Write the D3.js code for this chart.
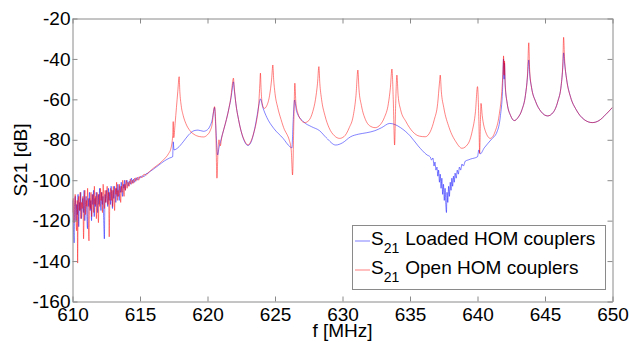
<!DOCTYPE html>
<html>
<head>
<meta charset="utf-8">
<script src="https://cdn.jsdelivr.net/npm/d3@7"></script>
<style>
  body { margin: 0; background: #fff; }
  text { font-family: "Liberation Sans", Arial, sans-serif; fill: #000; }
</style>
</head>
<body>
<div id="chart"></div>
<script>
// tick values
const xTicks = [610, 615, 620, 625, 630, 635, 640, 645, 650];
const yTicks = [-160, -140, -120, -100, -80, -60, -40, -20];

const seriesNames = ['Loaded HOM couplers', 'Open HOM couplers'];

// S21 with loaded HOM couplers [f MHz, dB]
const loadedHom = [
  [610.00,-110],[610.04,-118],[610.08,-126],[610.12,-131],[610.16,-113],[610.21,-108],[610.26,-120],
  [610.31,-112],[610.36,-117],[610.41,-107],[610.46,-123],[610.51,-111],[610.56,-115],[610.61,-106],
  [610.66,-119],[610.71,-113],[610.76,-109],[610.81,-116],[610.86,-105],[610.91,-120],[610.96,-112],
  [611.01,-108],[611.06,-117],[611.11,-124],[611.16,-109],[611.21,-113],[611.26,-106],[611.31,-115],
  [611.36,-110],[611.41,-120],[611.46,-107],[611.51,-112],[611.56,-105],[611.61,-118],[611.66,-109],
  [611.71,-113],[611.76,-106],[611.81,-111],[611.86,-116],[611.91,-107],[611.96,-112],[612.01,-104],
  [612.06,-110],[612.11,-115],[612.16,-106],[612.21,-112],[612.26,-108],[612.31,-120],[612.36,-129],
  [612.41,-107],[612.46,-111],[612.51,-105],[612.56,-109],[612.61,-113],[612.66,-104],[612.71,-110],
  [612.76,-106],[612.81,-112],[612.86,-103],[612.91,-108],[612.96,-114],[613.01,-105],[613.06,-109],
  [613.11,-103],[613.16,-107],[613.21,-111],[613.26,-104],[613.31,-108],[613.36,-102],[613.41,-106],
  [613.46,-110],[613.51,-103],[613.56,-106],[613.61,-101],[613.66,-105],[613.71,-108],[613.76,-102],
  [613.81,-104],[613.86,-100],[613.91,-105],[613.96,-102],[614.04,-100],[614.12,-103],[614.2,-100.5],
  [614.28,-102],[614.36,-99],[614.44,-101.5],[614.52,-99.5],[614.6,-101],[614.7,-98.8],[614.8,-100],
  [614.9,-98.5],[615.0,-99],[615.15,-97.8],[615.3,-98.2],[615.45,-96.8],[615.6,-96.5],[615.8,-95.4],
  [616.0,-94.5],[616.4,-92.5],[616.8,-90.5],[617.2,-89],
  [617.42,-88.4],[617.46,-81],[617.52,-85],[617.8,-84],[618.2,-81],[618.6,-77.6],[619.0,-75.5],
  [619.3,-75.2],[619.7,-75.8],[620.0,-75],[620.2,-73],[620.35,-70],[620.45,-66],[620.52,-64],
  [620.6,-72],[620.75,-87.5],[620.85,-84],[621.0,-80],[621.2,-75],[621.4,-70],[621.6,-64],
  [621.75,-59],[621.85,-54],[621.92,-51.3],[621.98,-55],[622.1,-62],[622.3,-70],[622.5,-76],
  [622.75,-81],[623.0,-82.8],[623.2,-81.5],[623.45,-76],[623.65,-69],[623.8,-63],[623.92,-59.8],
  [624.1,-64],[624.4,-69],[624.9,-74.3],[625.6,-79.3],[626.1,-83.4],[626.25,-84],[626.35,-70],
  [626.45,-60.3],[626.6,-66],[627.1,-71],[627.7,-73.5],[628.3,-75.5],[628.8,-79],[629.5,-82.6],
  [630.0,-81.5],[630.6,-78.5],[631.2,-77.2],[631.8,-76.5],[632.4,-75.5],[632.9,-74],[633.5,-71.9],
  [633.9,-72.5],[634.3,-74],[635.0,-78],[635.6,-83],[636.26,-87.5],[636.5,-88.5],[636.6,-90],
  [636.7,-89],[636.78,-93],[636.85,-91],[636.92,-95],[637.0,-93.5],[637.06,-98],[637.12,-95],
  [637.18,-101],[637.24,-97],[637.3,-104],[637.36,-99],[637.42,-107],[637.48,-102],[637.54,-110],
  [637.6,-104],[637.65,-112],[637.7,-116],[637.74,-106],[637.8,-111],[637.86,-103],[637.92,-108],
  [637.98,-101],[638.04,-105],[638.1,-99],[638.16,-103],[638.22,-98],[638.28,-101],[638.34,-96.5],
  [638.42,-99],[638.5,-95],[638.58,-97],[638.66,-93.5],[638.75,-95],[638.85,-92],[638.95,-93],
  [639.1,-90.5],[639.3,-90],[639.5,-89.5],[640.0,-88.4],[640.1,-85],[640.2,-87],[640.5,-84],
  [641.0,-80],[641.45,-76],
  [641.7,-68],[641.85,-56],[641.93,-40],[641.97,-50],[642.0,-42],[642.05,-53],[642.2,-62],
  [642.45,-68],[642.73,-70.5],[643.0,-69],[643.3,-65],[643.55,-58],[643.7,-49],[643.8,-40.5],
  [643.86,-47],[644.0,-54],[644.3,-61],[644.7,-66],[645.2,-68.2],[645.6,-66.5],[645.95,-61],
  [646.2,-53],[646.32,-44],[646.38,-37],[646.45,-42],[646.6,-50],[646.9,-59],[647.3,-65],
  [647.9,-70],[648.5,-71.5],[649.0,-70.5],[649.5,-67.5],[650.0,-64]
];

// S21 with open HOM couplers [f MHz, dB]
const openHom = [
  [610.00,-116],[610.05,-109],[610.10,-121],[610.15,-112],[610.20,-107],[610.25,-118],[610.30,-125],
  [610.35,-110],[610.38,-141],[610.42,-113],[610.47,-108],[610.52,-115],[610.57,-106],[610.62,-119],
  [610.67,-111],[610.72,-114],[610.77,-108],[610.82,-129],[610.87,-112],[610.92,-105],[610.97,-117],
  [611.02,-110],[611.07,-113],[611.12,-104],[611.17,-120],[611.22,-130],[611.27,-109],[611.32,-114],
  [611.37,-106],[611.42,-118],[611.47,-110],[611.52,-107],[611.57,-116],[611.62,-103],[611.67,-112],
  [611.72,-108],[611.77,-119],[611.82,-106],[611.87,-111],[611.92,-121],[611.97,-107],[612.02,-113],
  [612.07,-104],[612.12,-110],[612.17,-106],[612.22,-116],[612.27,-102],[612.32,-109],[612.37,-114],
  [612.42,-105],[612.47,-111],[612.52,-107],[612.57,-103],[612.62,-112],[612.67,-106],[612.72,-128],
  [612.77,-108],[612.82,-104],[612.87,-110],[612.92,-105],[612.97,-113],[613.02,-103],[613.07,-108],
  [613.12,-115],[613.17,-104],[613.22,-107],[613.27,-101],[613.32,-110],[613.37,-105],[613.42,-108],
  [613.47,-102],[613.52,-106],[613.57,-111],[613.62,-103],[613.67,-106],[613.72,-100],[613.77,-104],
  [613.82,-108],[613.87,-102],[613.92,-105],[613.97,-100],[614.05,-104],[614.12,-101],[614.2,-103],
  [614.28,-99.5],[614.36,-102],[614.44,-100],[614.52,-101.5],[614.6,-99],[614.7,-100.5],[614.8,-98.5],
  [614.9,-100],[615.0,-98],[615.15,-98.8],[615.3,-97],[615.45,-97.5],[615.6,-96.3],[615.8,-95.2],
  [616.0,-94],[616.4,-92],[616.8,-89.5],[617.1,-87],
  [617.3,-84],[617.42,-78],[617.46,-71],[617.5,-79],[617.6,-72],[617.7,-64],[617.8,-56],
  [617.9,-48.8],[617.95,-56],[618.05,-63],[618.2,-68],[618.4,-72],[618.7,-75.5],[619.0,-77.3],
  [619.4,-78.4],[619.7,-78.6],[620.0,-77.5],[620.2,-75.5],[620.35,-72],[620.45,-66],[620.52,-63.6],
  [620.6,-70],[620.7,-99],[620.78,-85],[620.85,-80],[620.95,-83],[621.05,-79],[621.2,-75],
  [621.4,-70],[621.6,-64],[621.75,-58],[621.85,-52],[621.92,-49.5],[621.98,-54],[622.1,-62],
  [622.3,-70],[622.5,-76],[622.75,-80.5],[623.0,-82.6],[623.2,-81],[623.45,-76],[623.65,-70],
  [623.8,-62],[623.88,-52],[623.92,-47],[623.97,-55],[624.05,-62],[624.2,-64.5],[624.4,-63],
  [624.6,-58],[624.75,-50],[624.84,-43],[624.9,-50],[625.0,-57],[625.2,-64],[625.45,-70],
  [625.7,-75],[625.9,-77.5],[626.05,-80],[626.2,-85],[626.3,-97.4],[626.4,-70],[626.47,-52],
  [626.55,-62],[626.7,-67],[626.9,-70],[627.2,-71.5],[627.5,-70.5],[627.8,-66],[628.0,-60],
  [628.15,-52],[628.25,-43.8],[628.32,-52],[628.45,-60],[628.7,-68],[629.0,-74],[629.4,-78],
  [629.78,-79.3],[630.1,-78.5],[630.5,-74],[630.8,-68],[631.0,-58],[631.14,-45.5],[631.22,-55],
  [631.4,-63],[631.7,-70],[632.0,-73],[632.42,-74],[632.8,-72.5],[633.1,-69],[633.4,-62],
  [633.55,-54],[633.66,-45],[633.76,-60],[633.86,-82.6],[633.94,-62],[634.03,-48],[634.12,-58],
  [634.3,-65],[634.7,-71],[635.2,-76],[635.7,-78.2],[636.13,-78.5],[636.5,-76],[636.8,-70],
  [637.05,-62],[637.18,-52],[637.24,-48],[637.32,-56],[637.5,-64],[637.9,-74],[638.4,-81],
  [638.85,-84.2],[639.3,-82],[639.6,-76],[639.85,-66],[640.0,-53.7],[640.1,-70],[640.16,-86.7],
  [640.22,-70],[640.26,-62],[640.35,-68],[640.6,-76],[640.95,-79.3],[641.3,-76],[641.6,-68],
  [641.8,-56],[641.9,-44],[641.93,-38.5],[641.97,-48],[642.0,-41],[642.05,-52],[642.2,-62],
  [642.45,-68],[642.73,-70.5],[643.0,-69],[643.3,-65],[643.55,-58],[643.7,-48],[643.8,-32],
  [643.86,-45],[644.0,-54],[644.3,-61],[644.7,-66],[645.2,-68.2],[645.6,-66.5],[645.95,-61],
  [646.2,-53],[646.32,-42],[646.38,-29.3],[646.45,-40],[646.6,-50],[646.9,-59],[647.3,-65],
  [647.9,-70],[648.5,-71.5],[649.0,-70.5],[649.5,-67.5],[650.0,-63.9]
];

const width = 630, height = 342;
const plotLeft = 72.5, plotRight = 612.5, plotTop = 18.5, plotBottom = 301.5;
const axisColor = '#8a8a8a';
const colors = ['#0000ff', '#ff0000'];
const fontSize = 19;

const x = d3.scaleLinear().domain([610, 650]).range([plotLeft, plotRight]);
const y = d3.scaleLinear().domain([-160, -20]).range([plotBottom, plotTop]);

const svg = d3.select('#chart')
  .append('svg')
  .attr('width', width)
  .attr('height', height);

svg.append('defs').append('clipPath')
  .attr('id', 'plot')
  .append('rect')
  .attr('x', plotLeft).attr('y', plotTop)
  .attr('width', plotRight - plotLeft).attr('height', plotBottom - plotTop);

const line = d3.line()
  .x(d => x(d[0]))
  .y(d => y(d[1]))
  .curve(d3.curveMonotoneX);

const curves = svg.append('g').attr('clip-path', 'url(#plot)');
[loadedHom, openHom].forEach((s, i) => {
  curves.append('path')
    .datum(s)
    .attr('fill', 'none')
    .attr('stroke', colors[i])
    .attr('stroke-width', 0.75)
    .attr('stroke-opacity', 0.65)
    .attr('d', line);
});

function styleAxis(g) {
  g.select('.domain').attr('stroke', axisColor);
  g.selectAll('.tick line').attr('stroke', axisColor);
  g.selectAll('.tick text')
    .attr('font-size', fontSize)
    .attr('font-family', '"Liberation Sans", Arial, sans-serif')
    .attr('fill', '#000');
}

svg.append('g')
  .attr('transform', `translate(0,${plotBottom})`)
  .call(d3.axisBottom(x).tickValues(xTicks).tickSizeInner(-5).tickSizeOuter(0).tickPadding(6))
  .call(styleAxis);
svg.append('g')
  .attr('transform', `translate(0,${plotTop})`)
  .call(d3.axisTop(x).tickValues(xTicks).tickSizeInner(-5).tickSizeOuter(0).tickFormat(''))
  .call(styleAxis);
svg.append('g')
  .attr('transform', `translate(${plotLeft},0)`)
  .call(d3.axisLeft(y).tickValues(yTicks).tickSizeInner(-5).tickSizeOuter(0).tickPadding(2))
  .call(styleAxis);
svg.append('g')
  .attr('transform', `translate(${plotRight},0)`)
  .call(d3.axisRight(y).tickValues(yTicks).tickSizeInner(-5).tickSizeOuter(0).tickFormat(''))
  .call(styleAxis);

svg.selectAll('.tick text').text(function () { return this.textContent.replace('\u2212', '-'); });

// axis labels
svg.append('text')
  .attr('x', (plotLeft + plotRight) / 2)
  .attr('y', 337)
  .attr('text-anchor', 'middle')
  .attr('font-size', fontSize)
  .text('f [MHz]');

svg.append('text')
  .attr('transform', `translate(26.5,${(plotTop + plotBottom) / 2}) rotate(-90)`)
  .attr('text-anchor', 'middle')
  .attr('font-size', fontSize)
  .text('S21 [dB]');

// legend
const legend = svg.append('g');
legend.append('rect')
  .attr('x', 352.5).attr('y', 225.5)
  .attr('width', 253).attr('height', 64)
  .attr('fill', '#fff')
  .attr('stroke', axisColor);

seriesNames.forEach((name, i) => {
  const by = 244.5 + i * 29;
  legend.append('line')
    .attr('x1', 355).attr('x2', 370)
    .attr('y1', by - 3.5).attr('y2', by - 3.5)
    .attr('stroke', colors[i])
    .attr('stroke-opacity', 0.5)
    .attr('stroke-width', 1);
  const t = legend.append('text')
    .attr('x', 371).attr('y', by)
    .attr('font-size', fontSize);
  t.append('tspan').text('S');
  t.append('tspan').attr('dy', 8).attr('font-size', 14).text('21');
  t.append('tspan').attr('dy', -8).attr('dx', 6).text(name);
});
</script>
</body>
</html>
